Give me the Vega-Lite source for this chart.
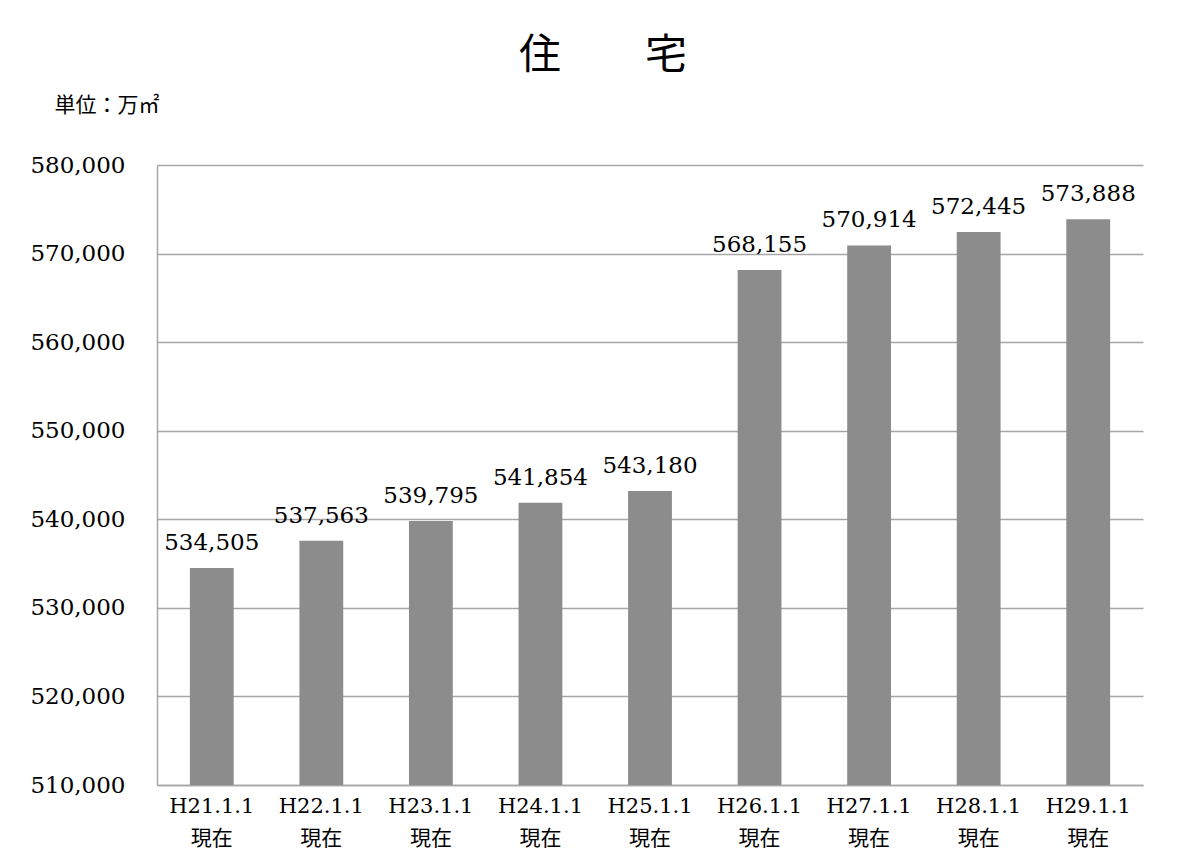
{
  "$schema": "https://vega.github.io/schema/vega-lite/v6.json",
  "autosize": {"type": "none"},
  "width": 986,
  "height": 620,
  "padding": {"left": 157, "top": 165, "right": 56, "bottom": 66},
  "background": "white",
  "title": {
    "text": "住　　宅",
    "anchor": "middle",
    "dx": -47,
    "offset": 16,
    "fontSize": 42,
    "fontWeight": "normal",
    "font": "Noto Sans CJK JP",
    "color": "#000000"
  },
  "data": {
    "values": [
      {"date": "H21.1.1", "area": 534505},
      {"date": "H22.1.1", "area": 537563},
      {"date": "H23.1.1", "area": 539795},
      {"date": "H24.1.1", "area": 541854},
      {"date": "H25.1.1", "area": 543180},
      {"date": "H26.1.1", "area": 568155},
      {"date": "H27.1.1", "area": 570914},
      {"date": "H28.1.1", "area": 572445},
      {"date": "H29.1.1", "area": 573888}
    ]
  },
  "encoding": {
    "x": {
      "field": "date",
      "type": "nominal",
      "sort": null,
      "scale": {"paddingInner": 0.6, "paddingOuter": 0.3},
      "axis": {
        "title": null,
        "labelAngle": 0,
        "labelExpr": "[datum.label, '現在']",
        "labelFont": "DejaVu Serif, Noto Sans CJK JP",
        "labelFontSize": 21,
        "labelColor": "#000000",
        "labelLineHeight": 32,
        "labelPadding": 10,
        "labelDx": 8,
        "ticks": false,
        "domainColor": "#a6a6a6",
        "domainWidth": 1.5
      }
    },
    "y": {
      "field": "area",
      "type": "quantitative",
      "scale": {"domain": [510000, 580000], "zero": false, "nice": false},
      "axis": {
        "values": [510000, 520000, 530000, 540000, 550000, 560000, 570000, 580000],
        "format": ",d",
        "title": "単位：万㎡",
        "titleAngle": 0,
        "titleAlign": "left",
        "titleBaseline": "middle",
        "titleX": -103,
        "titleY": -60,
        "titleFont": "Noto Sans CJK JP",
        "titleFontSize": 21,
        "titleFontWeight": "normal",
        "titleColor": "#000000",
        "labelFont": "DejaVu Serif",
        "labelFontSize": 23,
        "labelColor": "#000000",
        "labelPadding": 32,
        "ticks": false,
        "grid": true,
        "gridColor": "#a6a6a6",
        "gridWidth": 1.5,
        "domainColor": "#a6a6a6",
        "domainWidth": 1.5
      }
    }
  },
  "layer": [
    {
      "mark": {"type": "bar", "color": "#8c8c8c"},
      "encoding": {"y2": {"datum": 510000}}
    },
    {
      "mark": {"type": "text", "baseline": "alphabetic", "dy": -18, "font": "DejaVu Serif", "fontSize": 23, "color": "#000000"},
      "encoding": {"text": {"field": "area", "type": "quantitative", "format": ",d"}}
    }
  ],
  "config": {"view": {"stroke": null}}
}
